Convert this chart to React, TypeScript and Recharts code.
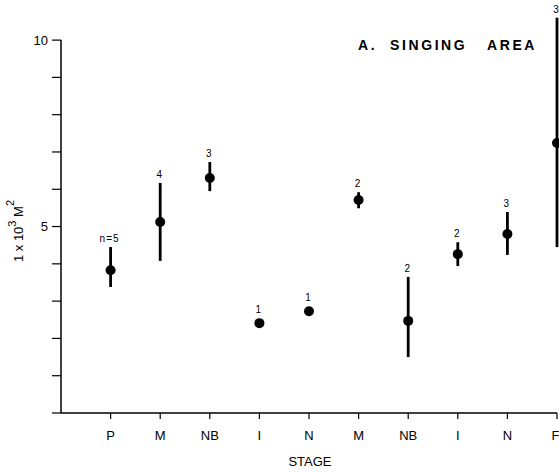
import React from 'react';
import { ScatterChart, Scatter, XAxis, YAxis, ErrorBar, ReferenceLine } from 'recharts';

const stages = ['P', 'M', 'NB', 'I', 'N', 'M', 'NB', 'I', 'N', 'F'];
const means = [3.83, 5.12, 6.3, 2.41, 2.73, 5.71, 2.47, 4.26, 4.8, 7.24];
const upper = [4.45, 6.17, 6.73, 2.41, 2.73, 5.92, 3.65, 4.58, 5.39, 10.6];
const lower = [3.38, 4.08, 5.95, 2.41, 2.73, 5.49, 1.5, 3.94, 4.24, 4.45];
const sampleSizes = ['n=5', '4', '3', '1', '1', '2', '2', '2', '3', '3'];
const yTicks = [0, 1, 2, 3, 4, 5, 6, 7, 8, 9, 10];
const yLabeled = [5, 10];
const titleWords = ['A.', 'SINGING', 'AREA'];

const positions = stages.map((_, i) => i + 1);
const pointData = positions.map((x, i) => ({
  x,
  y: means[i],
  err: [means[i] - lower[i], upper[i] - means[i]],
}));
const labelData = positions.map((x, i) => ({
  x,
  y: upper[i],
  n: sampleSizes[i],
  bar: upper[i] > means[i],
}));

const FONT = '"Liberation Sans", Arial, Helvetica, sans-serif';

const Dot = (props: any) => {
  const { cx, cy } = props;
  if (cx == null || cy == null) return null;
  return <circle cx={cx} cy={cy} r={5} fill="#000" />;
};

const NLabel = (props: any) => {
  const { cx, cy, payload } = props;
  if (cx == null || cy == null) return null;
  const off = payload.bar ? 5 : 10;
  return (
    <text
      x={cx - 1}
      y={cy - off}
      textAnchor="middle"
      fontSize={10}
      fontFamily={FONT}
      fill="#000"
      letterSpacing={payload.n.length > 1 ? 1 : 0}
    >
      {payload.n}
    </text>
  );
};

const YLabel = (props: any) => {
  const vb = props.viewBox || { x: 0 };
  const x = vb.x + 23;
  const y = 231;
  return (
    <text
      x={x}
      y={y}
      transform={`rotate(-90, ${x}, ${y})`}
      textAnchor="middle"
      fontSize={13}
      fontFamily={FONT}
      fill="#000"
    >
      <tspan>1 x 10</tspan>
      <tspan dy={-7} fontSize={11}>3</tspan>
      <tspan dy={7}> M</tspan>
      <tspan dy={-9} fontSize={11}>2</tspan>
    </text>
  );
};

const titleLeft = [358, 390, 487];

export default function App() {
  return (
    <div
      style={{
        position: 'absolute',
        top: 0,
        left: 0,
        width: 559,
        height: 473,
        background: '#fff',
        fontFamily: FONT,
        overflow: 'hidden',
      }}
    >
      <ScatterChart
        width={559}
        height={473}
        margin={{ top: 14, right: 2, bottom: 0, left: 0 }}
      >
        <XAxis
          type="number"
          dataKey="x"
          domain={[0, 10]}
          ticks={positions}
          tickFormatter={(v: number) => stages[v - 1] ?? ''}
          height={60}
          stroke="#000"
          tickSize={6}
          tickMargin={12}
          tick={{ fill: '#000', fontSize: 13, fontFamily: FONT }}
          axisLine={{ stroke: '#000', strokeWidth: 1.5 }}
          tickLine={{ stroke: '#000', strokeWidth: 1.2 }}
        />
        <YAxis
          type="number"
          dataKey="y"
          domain={[0, 10.7]}
          ticks={yTicks}
          tickFormatter={(v: number) => (yLabeled.includes(v) ? String(v) : '')}
          width={61}
          axisLine={false}
          tickSize={9}
          tickMargin={4}
          tick={{ fill: '#000', fontSize: 13, fontFamily: FONT }}
          tickLine={{ stroke: '#000', strokeWidth: 1.2 }}
          label={<YLabel />}
        />
        <ReferenceLine
          segment={[
            { x: 0, y: 0 },
            { x: 0, y: 10 },
          ]}
          stroke="#000"
          strokeWidth={1.5}
        />
        <Scatter data={pointData} shape={<Dot />} isAnimationActive={false}>
          <ErrorBar
            dataKey="err"
            direction="y"
            width={0}
            stroke="#000"
            strokeWidth={2.8}
            isAnimationActive={false}
          />
        </Scatter>
        <Scatter data={labelData} shape={<NLabel />} isAnimationActive={false} />
      </ScatterChart>
      <div
        style={{
          position: 'absolute',
          left: 0,
          top: 38,
          width: 559,
          height: 16,
          fontSize: 14,
          lineHeight: '14px',
          letterSpacing: 2.6,
          fontWeight: 'bold',
          whiteSpace: 'nowrap',
          color: '#000',
        }}
      >
        {titleWords.map((w, i) => (
          <span key={i} style={{ position: 'absolute', left: titleLeft[i], top: 0 }}>
            {w + (i < titleWords.length - 1 ? ' ' : '')}
          </span>
        ))}
      </div>
      <div
        style={{
          position: 'absolute',
          left: 260,
          width: 100,
          top: 455,
          fontSize: 13,
          lineHeight: '13px',
          textAlign: 'center',
          color: '#000',
        }}
      >
        STAGE
      </div>
    </div>
  );
}
